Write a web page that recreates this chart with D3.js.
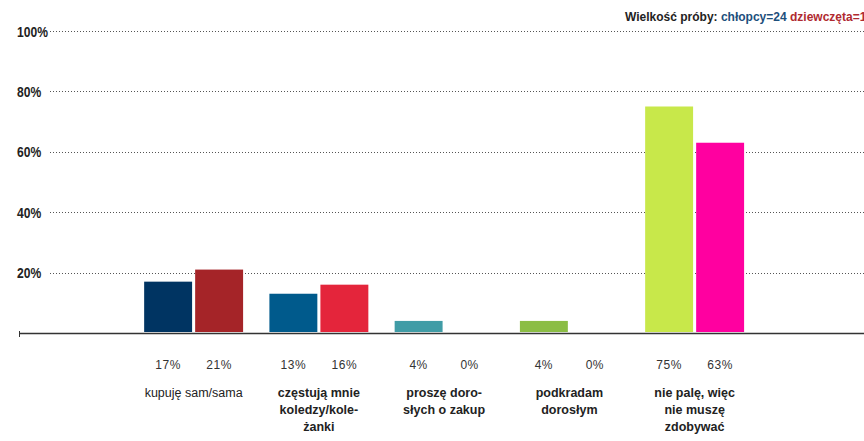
<!DOCTYPE html>
<html>
<head>
<meta charset="utf-8">
<script src="https://cdn.jsdelivr.net/npm/d3@7"></script>
<style>
  body { margin: 0; background: #fff; }
  svg { display: block; font-family: "Liberation Sans", Arial, sans-serif; }
</style>
</head>
<body>
<svg width="864" height="441"></svg>
<script>
let categories = [
  ["kupuję sam/sama"],
  ["częstują mnie", "koledzy/kole-", "żanki"],
  ["proszę doro-", "słych o zakup"],
  ["podkradam", "dorosłym"],
  ["nie palę, więc", "nie muszę", "zdobywać"]
];
let boldLabel = [false, true, true, true, true];
let boys = [17, 13, 4, 4, 75];
let girls = [21, 16, 0, 0, 63];
let boyColors = ["#003462", "#005a8c", "#409ca6", "#8bbd44", "#c8e84a"];
let girlColors = ["#a52428", "#e4253b", "#e4253b", "#e4253b", "#ff00a0"];
let yTicks = [20, 40, 60, 80, 100];

var drawChart = function() {
  let svg = d3.select("svg");
  let width = 864;

  let y = d3.scaleLinear().domain([0, 100]).range([333, 31]);

  let groupIdx = d3.range(categories.length);
  let x = d3.scaleBand()
    .domain(groupIdx)
    .range([131, 757.25])
    .paddingInner(0.21)
    .paddingOuter(0.105);

  let sub = d3.scaleBand()
    .domain(["boys", "girls"])
    .range([0, x.bandwidth()])
    .paddingInner(0.06);

  // grid lines
  let grid = svg.append("g").attr("id", "grid");
  grid.selectAll("line")
    .data(yTicks)
    .enter().append("line")
    .attr("x1", 50)
    .attr("x2", width)
    .attr("y1", d => Math.round(y(d)) + 0.5)
    .attr("y2", d => Math.round(y(d)) + 0.5)
    .attr("stroke", "#555")
    .attr("stroke-width", 1)
    .attr("stroke-dasharray", "1,2");

  // condensed tick labels (squeezed horizontally)
  grid.selectAll("text")
    .data(yTicks)
    .enter().append("text")
    .attr("transform", d => "translate(17," + y(d) + ") scale(0.78,1)")
    .attr("dy", "0.36em")
    .style("font-weight", "bold")
    .style("font-size", "15.5px")
    .attr("fill", "#222")
    .text(d => d + "%");

  // bars
  let groups = svg.selectAll("g.group")
    .data(groupIdx)
    .enter().append("g")
    .attr("class", "group")
    .attr("transform", d => "translate(" + x(d) + ",0)");

  groups.append("rect")
    .attr("x", sub("boys"))
    .attr("y", d => y(boys[d]))
    .attr("width", sub.bandwidth())
    .attr("height", d => y(0) - 1 - y(boys[d]))
    .attr("fill", d => boyColors[d]);

  groups.append("rect")
    .attr("x", sub("girls"))
    .attr("y", d => y(girls[d]))
    .attr("width", sub.bandwidth())
    .attr("height", d => Math.max(0, y(0) - 1 - y(girls[d])))
    .attr("fill", d => girlColors[d]);

  // value labels
  groups.append("text")
    .attr("x", sub("boys") + sub.bandwidth() / 2)
    .attr("y", 369)
    .attr("text-anchor", "middle")
    .style("font-size", "12px")
    .style("letter-spacing", "0.5px")
    .attr("fill", "#333")
    .text(d => boys[d] + "%");

  groups.append("text")
    .attr("x", sub("girls") + sub.bandwidth() / 2)
    .attr("y", 369)
    .attr("text-anchor", "middle")
    .style("font-size", "12px")
    .style("letter-spacing", "0.5px")
    .attr("fill", "#333")
    .text(d => girls[d] + "%");

  // category labels
  groups.each(function(d) {
    let t = d3.select(this).append("text")
      .attr("text-anchor", "middle")
      .style("font-size", "12.5px")
      .style("font-weight", boldLabel[d] ? "bold" : "normal")
      .attr("fill", "#222");
    categories[d].forEach(function(line, i) {
      t.append("tspan")
        .attr("x", x.bandwidth() / 2)
        .attr("y", 397 + i * 17)
        .text(line);
    });
  });

  // baseline
  svg.append("line")
    .attr("x1", 19).attr("x2", width)
    .attr("y1", 333.5).attr("y2", 333.5)
    .attr("stroke", "#333")
    .attr("stroke-width", 1.5);
  svg.append("line")
    .attr("x1", 19.5).attr("x2", 19.5)
    .attr("y1", 331).attr("y2", 337)
    .attr("stroke", "#333");

  // sample size note (runs off the right edge, as in the original)
  let note = svg.append("text")
    .attr("x", 625)
    .attr("y", 21)
    .style("font-size", "12px")
    .style("font-weight", "bold");
  note.append("tspan").attr("fill", "#222").text("Wielkość próby: ");
  note.append("tspan").attr("fill", "#1d4f7c").text("chłopcy=24 ");
  note.append("tspan").attr("fill", "#b02a30").text("dziewczęta=19");
}

drawChart();
</script>
</body>
</html>
